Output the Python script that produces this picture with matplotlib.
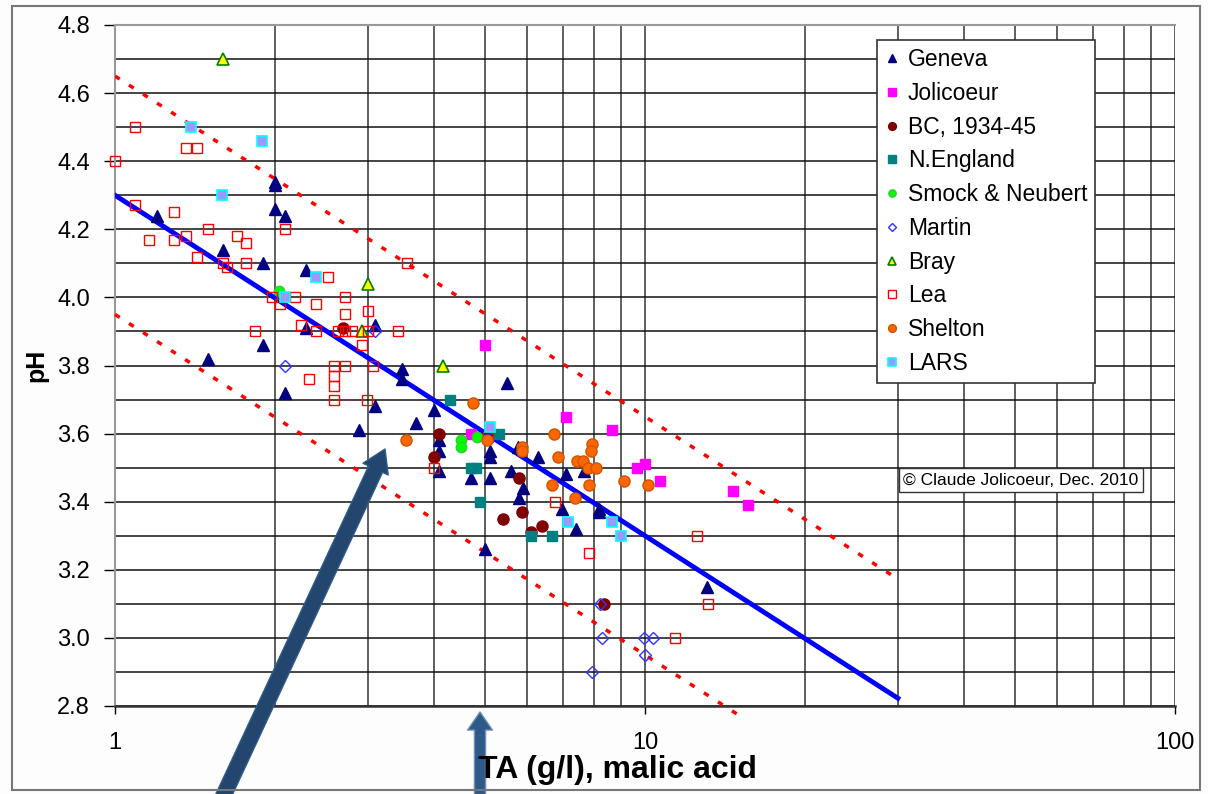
import matplotlib
matplotlib.use("Agg")
import matplotlib.pyplot as plt
import matplotlib.ticker as mticker
from matplotlib.patches import Rectangle
import numpy as np

# --- data (TA g/l, pH) ---
geneva_ta = [1.2, 1.5, 1.6, 1.9, 1.9, 2.0, 2.0, 2.0, 2.09, 2.09, 2.29, 2.29, 2.89, 3.09, 3.09,
             3.48, 3.48, 3.69, 3.99, 4.09, 4.09, 4.09, 4.7, 4.98, 5.1, 5.1, 5.1, 5.48, 5.59, 5.75,
             5.89, 5.79, 6.27, 6.98, 7.09, 7.41, 7.67, 8.19, 8.19, 13.07]
geneva_ph = [4.24, 3.82, 4.14, 4.10, 3.86, 4.34, 4.33, 4.26, 4.24, 3.72, 4.08, 3.91, 3.61, 3.92, 3.68,
             3.79, 3.76, 3.63, 3.67, 3.58, 3.55, 3.49, 3.47, 3.26, 3.55, 3.53, 3.47, 3.75, 3.49, 3.56,
             3.44, 3.41, 3.53, 3.38, 3.48, 3.32, 3.49, 3.38, 3.37, 3.15]

jolicoeur_ta = [4.98, 4.69, 7.09, 8.65, 9.65, 10.0, 10.67, 14.68, 15.67]
jolicoeur_ph = [3.86, 3.60, 3.65, 3.61, 3.50, 3.51, 3.46, 3.43, 3.39]

bc_ta = [2.69, 3.99, 4.09, 5.39, 5.79, 5.87, 6.09, 6.38, 8.38]
bc_ph = [3.91, 3.53, 3.60, 3.35, 3.47, 3.37, 3.31, 3.33, 3.10]

nengland_ta = [4.29, 4.69, 4.8, 4.88, 5.30, 6.09, 6.69]
nengland_ph = [3.70, 3.50, 3.50, 3.40, 3.60, 3.30, 3.30]

smock_ta = [2.04, 4.49, 4.49, 4.81]
smock_ph = [4.02, 3.58, 3.56, 3.59]

martin_ta = [2.09, 3.09, 8.22, 8.28, 9.97, 10.37, 10.0, 7.94]
martin_ph = [3.80, 3.90, 3.10, 3.00, 3.00, 3.00, 2.95, 2.90]

bray_ta = [1.6, 2.93, 3.0, 4.16]
bray_ph = [4.70, 3.90, 4.04, 3.80]

lea_ta = [1.0, 1.09, 1.36, 1.43, 1.09, 1.29, 1.16, 1.29, 1.36, 1.5, 1.43, 1.6, 1.63, 1.70, 1.77,
          1.77, 2.09, 2.52, 3.55, 1.98, 2.05, 2.19, 2.39, 2.72, 2.72, 3.0, 2.24, 1.84, 2.39, 2.64,
          2.72, 2.80, 3.0, 3.42, 2.93, 2.59, 2.72, 3.07, 2.32, 2.59, 2.59, 2.59, 2.99, 3.99, 5.05,
          6.76, 7.85, 12.52, 13.17, 11.39]
lea_ph = [4.40, 4.50, 4.44, 4.44, 4.27, 4.25, 4.17, 4.17, 4.18, 4.20, 4.12, 4.10, 4.09, 4.18, 4.16,
          4.10, 4.20, 4.06, 4.10, 4.00, 3.98, 4.00, 3.98, 4.00, 3.95, 3.96, 3.92, 3.90, 3.90, 3.90,
          3.90, 3.90, 3.90, 3.90, 3.86, 3.80, 3.80, 3.80, 3.76, 3.77, 3.74, 3.70, 3.70, 3.50, 3.59,
          3.40, 3.25, 3.30, 3.10, 3.00]

shelton_ta = [3.54, 4.74, 5.04, 5.87, 5.87, 6.73, 6.86, 7.43, 7.65, 7.94, 7.9, 7.8, 8.1, 6.69,
              7.84, 9.13, 10.15, 7.38]
shelton_ph = [3.58, 3.69, 3.58, 3.56, 3.55, 3.60, 3.53, 3.52, 3.52, 3.57, 3.55, 3.50, 3.50, 3.45,
              3.45, 3.46, 3.45, 3.41]

lars_ta = [1.39, 1.89, 1.59, 2.39, 2.09, 5.10, 7.17, 8.65, 9.0]
lars_ph = [4.50, 4.46, 4.30, 4.06, 4.00, 3.62, 3.34, 3.34, 3.30]

# fitted line pH = a - b*log10(TA), with +/- band
fit_a = 4.30
fit_b = 1.0
band = 0.35

plt.rcParams['font.family'] = ['Liberation Sans', 'DejaVu Sans']

fig = plt.figure(figsize=(12.08, 7.94), dpi=100)
fig.patch.set_facecolor('#fcfdfc')
ax = fig.add_axes([115 / 1208, 1 - 706 / 794, 1060 / 1208, 681 / 794])
ax.set_facecolor('white')

ax.set_xscale('log')
ax.set_xlim(1, 100)
ax.set_ylim(2.8, 4.8)

ax.yaxis.set_major_locator(mticker.MultipleLocator(0.2))
ax.yaxis.set_minor_locator(mticker.MultipleLocator(0.1))
ax.yaxis.set_major_formatter(mticker.FormatStrFormatter('%.1f'))
ax.xaxis.set_major_locator(mticker.LogLocator(base=10))
ax.xaxis.set_minor_locator(mticker.LogLocator(base=10, subs=np.arange(2, 10)))
ax.xaxis.set_major_formatter(mticker.FuncFormatter(lambda v, p: '%g' % v))
ax.xaxis.set_minor_formatter(mticker.NullFormatter())

ax.grid(which='both', axis='y', color='#111111', lw=1.1)
ax.grid(which='both', axis='x', color='#333333', lw=1.1)
ax.set_axisbelow(True)

ax.tick_params(axis='y', which='major', length=8, width=1, labelsize=17, pad=10)
ax.tick_params(axis='y', which='minor', length=0)
ax.tick_params(axis='x', which='major', length=6, width=1, labelsize=17, pad=13)
ax.tick_params(axis='x', which='minor', length=0)

for s in ['top', 'left']:
    ax.spines[s].set_color('#999999')
    ax.spines[s].set_linewidth(1.5)
ax.spines['right'].set_visible(False)
ax.spines['bottom'].set_color('#333333')
ax.spines['bottom'].set_linewidth(1.8)

# fit and band lines
xf = np.array([1.0, 30.0])
ax.plot(xf, fit_a - fit_b * np.log10(xf), color='#0000ff', lw=3.5, zorder=3)
ax.plot(xf, fit_a + band - fit_b * np.log10(xf), color='#ff0000', lw=2.5,
        ls=(0, (1.6, 3.2)), zorder=3)
xl = np.array([1.0, 15.5])
ax.plot(xl, fit_a - band - fit_b * np.log10(xl), color='#ff0000', lw=2.5,
        ls=(0, (1.6, 3.2)), zorder=3, clip_on=False)

# series
kw = dict(ls='none', zorder=4, clip_on=False)
ax.plot(geneva_ta, geneva_ph, '^', ms=9, mfc='#000080', mec='#000080', label='Geneva', **kw)
ax.plot(jolicoeur_ta, jolicoeur_ph, 's', ms=7.5, mfc='#ff00ff', mec='#ff00ff', label='Jolicoeur', **kw)
ax.plot(bc_ta, bc_ph, 'o', ms=8, mfc='#800000', mec='#800000', label='BC, 1934-45', **kw)
ax.plot(nengland_ta, nengland_ph, 's', ms=7.5, mfc='#008080', mec='#008080', label='N.England', **kw)
ax.plot(smock_ta, smock_ph, 'o', ms=7.5, mfc='#00ff00', mec='#33cc33', label='Smock & Neubert', **kw)
ax.plot(martin_ta, martin_ph, 'D', ms=6, mfc='none', mec='#3333ff', mew=1, label='Martin', **kw)
ax.plot(bray_ta, bray_ph, '^', ms=9, mfc='#ffff00', mec='#008000', mew=1.2, label='Bray', **kw)
ax.plot(lea_ta, lea_ph, 's', ms=7.5, mfc='none', mec='#ff0000', mew=1, label='Lea', **kw)
ax.plot(shelton_ta, shelton_ph, 'o', ms=8, mfc='#ff6600', mec='#cc5500', label='Shelton', **kw)
ax.plot(lars_ta, lars_ph, 's', ms=7.5, mfc='#9999ff', mec='#00ffff', mew=1.2, label='LARS', **kw)

leg = ax.legend(loc='upper left', bbox_to_anchor=(877 / 1208, 1 - 40 / 794),
                bbox_transform=fig.transFigure, fontsize=16.5, markerscale=0.7,
                handlelength=0.6, handletextpad=0.4, labelspacing=0.47,
                borderpad=0.35, borderaxespad=0, fancybox=False, framealpha=1,
                edgecolor='#333333')
leg.get_frame().set_linewidth(1.2)

ax.set_ylabel('pH', fontsize=18, fontweight='bold', labelpad=6)
fig.text(478 / 1208, 1 - 770 / 794, 'TA (g/l), malic acid', fontsize=23, fontweight='bold',
         ha='left', va='center')

fig.text(1021 / 1208, 1 - 480 / 794, '\u00a9 Claude Jolicoeur, Dec. 2010', fontsize=12.5,
         ha='center', va='center',
         bbox=dict(boxstyle='square,pad=0.25', fc='white', ec='#333333', lw=1))

# pointer arrows
ax.annotate('', xy=(385, 794 - 449), xytext=(215, -20), xycoords='figure pixels',
            textcoords='figure pixels', annotation_clip=False,
            arrowprops=dict(arrowstyle='simple,head_width=2.0,head_length=1.6,tail_width=1.1',
                            mutation_scale=10, fc='#23466f', ec='#2f5a8a', lw=1, shrinkA=0, shrinkB=0))
ax.annotate('', xy=(480, 794 - 712), xytext=(480, -20), xycoords='figure pixels',
            textcoords='figure pixels', annotation_clip=False,
            arrowprops=dict(arrowstyle='simple,head_width=1.8,head_length=1.3,tail_width=0.8',
                            mutation_scale=10, fc='#2e5a88', ec='#6f90b8', lw=1, shrinkA=0, shrinkB=0))

fig.patches.append(Rectangle((12 / 1208, 4 / 794), 1188 / 1208, 784 / 794, transform=fig.transFigure,
                             fill=False, ec='#777777', lw=1.5))

fig.savefig('out.png', dpi=100, facecolor=fig.get_facecolor())
